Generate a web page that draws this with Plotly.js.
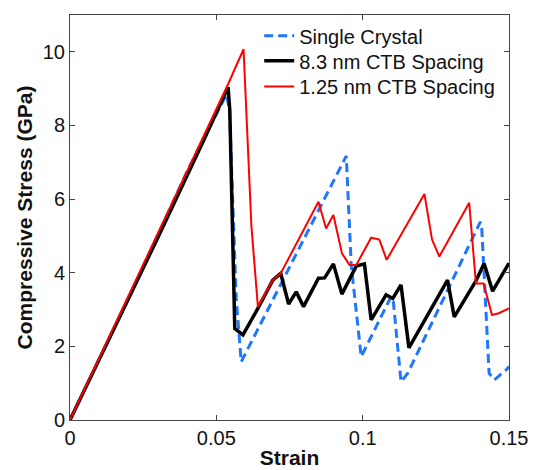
<!DOCTYPE html>
<html>
<head>
<meta charset="utf-8">
<script src="https://cdn.plot.ly/plotly-3.0.1.min.js"></script>
<style>
html,body{margin:0;padding:0;background:#fff;}
#chart{width:538px;height:470px;}
</style>
</head>
<body>
<div id="chart"></div>
<script>
// Series names
const seriesNames = ["Single Crystal", "8.3 nm CTB Spacing", "1.25 nm CTB Spacing"];

// Single crystal (blue dashed)
const singleX = [0, 0.02, 0.04, 0.0535, 0.0545, 0.0568, 0.0585, 0.0944, 0.0961, 0.0995, 0.1097, 0.1105, 0.1131, 0.1154, 0.1402, 0.1407, 0.1432, 0.145, 0.149, 0.15];
const singleY = [0, 3.3, 6.75, 8.85, 8.4, 3.3, 1.58, 7.17, 4.2, 1.72, 3.35, 3.2, 1.04, 1.27, 5.38, 5.2, 1.27, 1.09, 1.36, 1.45];

// 8.3 nm CTB spacing (black)
const ctb83X = [0, 0.03, 0.046, 0.0505, 0.054, 0.0546, 0.0563, 0.0591, 0.0642, 0.0693, 0.072, 0.0747, 0.0773, 0.0798, 0.0849, 0.087, 0.09, 0.0929, 0.0978, 0.1006, 0.1029, 0.108, 0.1103, 0.1131, 0.1158, 0.129, 0.1313, 0.1387, 0.1415, 0.1444, 0.15];
const ctb83Y = [0, 4.95, 7.65, 8.45, 9.04, 8.42, 2.48, 2.31, 3.03, 3.8, 3.98, 3.15, 3.48, 3.08, 3.85, 3.86, 4.24, 3.42, 4.18, 4.24, 2.72, 3.4, 3.3, 3.67, 1.96, 3.8, 2.8, 3.78, 4.25, 3.5, 4.26];

// 1.25 nm CTB spacing (red)
const ctb125X = [0, 0.05, 0.054, 0.0593, 0.062, 0.0642, 0.0693, 0.072, 0.0849, 0.0875, 0.09, 0.0929, 0.0955, 0.0978, 0.1029, 0.1057, 0.1082, 0.1211, 0.1237, 0.1262, 0.1364, 0.1387, 0.1413, 0.1442, 0.1465, 0.15];
const ctb125Y = [0, 8.42, 9.12, 10.07, 5.25, 3.08, 3.8, 3.98, 5.93, 5.2, 5.57, 4.53, 4.21, 4.21, 4.95, 4.9, 4.35, 6.14, 4.9, 4.44, 5.9, 3.71, 3.71, 2.85, 2.9, 3.03];

// Axis ticks
const xTicks = [0, 0.05, 0.1, 0.15];
const xTickLabels = ["0", "0.05", "0.1", "0.15"];
const yTicks = [0, 2, 4, 6, 8, 10];
const yTickLabels = ["0", "2", "4", "6", "8", "10"];

const FONT = "Liberation Sans, Arial, Helvetica, sans-serif";

const traces = [
  {x: singleX, y: singleY, name: seriesNames[0], mode: "lines", type: "scatter", legend: "legend",
   line: {color: "#1f77ff", width: 3, dash: "9px,5px"}},
  {x: ctb83X, y: ctb83Y, name: seriesNames[1], mode: "lines", type: "scatter", legend: "legend2",
   line: {color: "#000000", width: 3.5}},
  {x: ctb125X, y: ctb125Y, name: seriesNames[2], mode: "lines", type: "scatter", legend: "legend3",
   line: {color: "#ff0000", width: 2}}
];

const axisCommon = {
  showgrid: false, zeroline: false, showline: true, linecolor: "#444", linewidth: 1,
  mirror: "ticks", ticks: "inside", ticklen: 5, tickcolor: "#444",
  tickfont: {family: FONT, size: 20, color: "#111"}
};

function legendAt(y) {
  return {x: 0.431, y: y, xanchor: "left", yanchor: "top", bgcolor: "rgba(0,0,0,0)",
          font: {family: FONT, size: 20, color: "#111"}, itemwidth: 30};
}

const layout = {
  width: 538, height: 470,
  margin: {l: 70, r: 29, t: 15, b: 50},
  paper_bgcolor: "#fff", plot_bgcolor: "#fff",
  font: {family: FONT},
  showlegend: true,
  legend: legendAt(0.997),
  legend2: legendAt(0.935),
  legend3: legendAt(0.8715),
  xaxis: Object.assign({}, axisCommon, {
    range: [0, 0.15], tickvals: xTicks, ticktext: xTickLabels,
    title: {text: "<b>Strain</b>", font: {family: FONT, size: 21, color: "#111"}, standoff: 2}
  }),
  yaxis: Object.assign({}, axisCommon, {
    range: [0, 11], tickvals: yTicks, ticktext: yTickLabels,
    title: {text: "<b>Compressive Stress (GPa)</b>", font: {family: FONT, size: 21, color: "#111"}, standoff: 4}
  })
};

Plotly.newPlot("chart", traces, layout, {staticPlot: true, displayModeBar: false});
</script>
</body>
</html>
